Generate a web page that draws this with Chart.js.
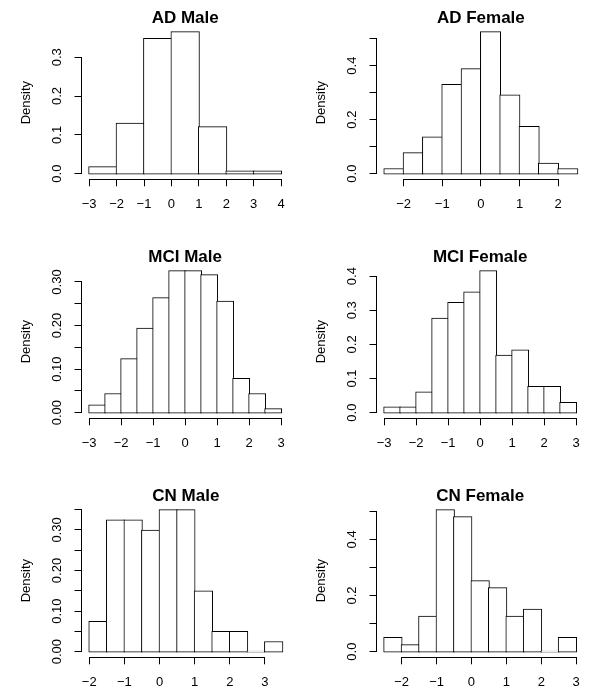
<!DOCTYPE html>
<html>
<head>
<meta charset="utf-8">
<script src="https://cdn.jsdelivr.net/npm/chart.js@4/dist/chart.umd.min.js"></script>
<style>
  html, body { margin: 0; padding: 0; background: #fff; }
  #fig { position: relative; width: 590px; height: 698px; overflow: hidden; background: #fff; }
  #fig canvas { position: absolute; }
</style>
</head>
<body>
<div id="fig"></div>
<script>
// Density histograms of standardised scores, by diagnosis group and sex.

// AD Male
const adMaleBreaks  = [-3, -2, -1, 0, 1, 2, 3, 4];
const adMaleDensity = [0.018, 0.130, 0.349, 0.366, 0.121, 0.007, 0.007];
const adMaleXTicks  = [-3, -2, -1, 0, 1, 2, 3, 4];
const adMaleYTicks  = [0, 0.1, 0.2, 0.3];
const adMaleYLabels = ['0.0', '0.1', '0.2', '0.3'];

// AD Female
const adFemaleBreaks  = [-2.5, -2, -1.5, -1, -0.5, 0, 0.5, 1, 1.5, 2, 2.5];
const adFemaleDensity = [0.019, 0.078, 0.136, 0.331, 0.389, 0.526, 0.292, 0.175, 0.039, 0.019];
const adFemaleXTicks  = [-2, -1, 0, 1, 2];
const adFemaleYTicks  = [0, 0.1, 0.2, 0.3, 0.4, 0.5];
const adFemaleYLabels = ['0.0', '', '0.2', '', '0.4', ''];

// MCI Male
const mciMaleBreaks  = [-3, -2.5, -2, -1.5, -1, -0.5, 0, 0.5, 1, 1.5, 2, 2.5, 3];
const mciMaleDensity = [0.018, 0.044, 0.124, 0.194, 0.264, 0.326, 0.326, 0.317, 0.256, 0.079, 0.044, 0.009];
const mciMaleXTicks  = [-3, -2, -1, 0, 1, 2, 3];
const mciMaleYTicks  = [0, 0.05, 0.10, 0.15, 0.20, 0.25, 0.30];
const mciMaleYLabels = ['0.00', '', '0.10', '', '0.20', '', '0.30'];

// MCI Female
const mciFemaleBreaks  = [-3, -2.5, -2, -1.5, -1, -0.5, 0, 0.5, 1, 1.5, 2, 2.5, 3];
const mciFemaleDensity = [0.017, 0.017, 0.061, 0.277, 0.323, 0.354, 0.416, 0.169, 0.184, 0.077, 0.077, 0.030];
const mciFemaleXTicks  = [-3, -2, -1, 0, 1, 2, 3];
const mciFemaleYTicks  = [0, 0.1, 0.2, 0.3, 0.4];
const mciFemaleYLabels = ['0.0', '0.1', '0.2', '0.3', '0.4'];

// CN Male
const cnMaleBreaks  = [-2, -1.5, -1, -0.5, 0, 0.5, 1, 1.5, 2, 2.5, 3, 3.5];
const cnMaleDensity = [0.075, 0.325, 0.325, 0.300, 0.350, 0.350, 0.150, 0.050, 0.050, 0, 0.025];
const cnMaleXTicks  = [-2, -1, 0, 1, 2, 3];
const cnMaleYTicks  = [0, 0.05, 0.10, 0.15, 0.20, 0.25, 0.30, 0.35];
const cnMaleYLabels = ['0.00', '', '0.10', '', '0.20', '', '0.30', ''];

// CN Female
const cnFemaleBreaks  = [-2.5, -2, -1.5, -1, -0.5, 0, 0.5, 1, 1.5, 2, 2.5, 3];
const cnFemaleDensity = [0.051, 0.025, 0.127, 0.506, 0.481, 0.253, 0.228, 0.127, 0.152, 0, 0.051];
const cnFemaleXTicks  = [-2, -1, 0, 1, 2, 3];
const cnFemaleYTicks  = [0, 0.1, 0.2, 0.3, 0.4, 0.5];
const cnFemaleYLabels = ['0.0', '', '0.2', '', '0.4', ''];

const panels = [
  { title: 'AD Male',    row: 0, col: 0, breaks: adMaleBreaks,    density: adMaleDensity,    xTicks: adMaleXTicks,    yTicks: adMaleYTicks,    yLabels: adMaleYLabels },
  { title: 'AD Female',  row: 0, col: 1, breaks: adFemaleBreaks,  density: adFemaleDensity,  xTicks: adFemaleXTicks,  yTicks: adFemaleYTicks,  yLabels: adFemaleYLabels },
  { title: 'MCI Male',   row: 1, col: 0, breaks: mciMaleBreaks,   density: mciMaleDensity,   xTicks: mciMaleXTicks,   yTicks: mciMaleYTicks,   yLabels: mciMaleYLabels },
  { title: 'MCI Female', row: 1, col: 1, breaks: mciFemaleBreaks, density: mciFemaleDensity, xTicks: mciFemaleXTicks, yTicks: mciFemaleYTicks, yLabels: mciFemaleYLabels },
  { title: 'CN Male',    row: 2, col: 0, breaks: cnMaleBreaks,    density: cnMaleDensity,    xTicks: cnMaleXTicks,    yTicks: cnMaleYTicks,    yLabels: cnMaleYLabels },
  { title: 'CN Female',  row: 2, col: 1, breaks: cnFemaleBreaks,  density: cnFemaleDensity,  xTicks: cnFemaleXTicks,  yTicks: cnFemaleYTicks,  yLabels: cnFemaleYLabels }
];

// Panel geometry (px)
const PANEL_W = 295, PANEL_H = 220;
const ROW_TOP = [0, 239, 478];
const PLOT_LEFT = 81.5, RIGHT_PAD = 4.8, TITLE_H = 26, PLOT_H = 153.3, XAXIS_H = 40;
const TICK_LEN = 7;
const FONT_FAMILY = '"Liberation Sans", Arial, Helvetica, sans-serif';
const AXIS_FONT = 13;

Chart.defaults.font.family = FONT_FAMILY;
Chart.defaults.font.size = AXIS_FONT;
Chart.defaults.color = '#000';

const fmt = v => String(v).replace('-', '\u2212');

// Axis lines that run from the first to the last tick only
const axisLines = {
  id: 'axisLines',
  afterDraw(chart) {
    const { ctx, chartArea, scales: { x, y } } = chart;
    const xt = x.ticks, yt = y.ticks;
    ctx.save();
    ctx.strokeStyle = '#000';
    ctx.lineWidth = 1;
    ctx.beginPath();
    const by = Math.round(chartArea.bottom) + 0.5;
    const x0 = Math.round(x.getPixelForValue(xt[0].value) - 0.5);
    const x1 = Math.round(x.getPixelForValue(xt[xt.length - 1].value) - 0.5) + 1;
    ctx.moveTo(x0, by);
    ctx.lineTo(x1, by);
    const lx = Math.round(chartArea.left) - 0.5;
    const y0 = Math.round(y.getPixelForValue(yt[0].value) - 0.5) + 1;
    const y1 = Math.round(y.getPixelForValue(yt[yt.length - 1].value) - 0.5);
    ctx.moveTo(lx, y0);
    ctx.lineTo(lx, y1);
    ctx.stroke();
    ctx.restore();
  }
};

const meas = document.createElement('canvas').getContext('2d');
meas.font = AXIS_FONT + 'px ' + FONT_FAMILY;

const fig = document.getElementById('fig');

panels.forEach(p => {
  const canvas = document.createElement('canvas');
  canvas.width = PANEL_W;
  canvas.height = PANEL_H;
  canvas.style.left = (p.col * PANEL_W) + 'px';
  canvas.style.top = ROW_TOP[p.row] + 'px';
  fig.appendChild(canvas);

  const lo = p.breaks[0], hi = p.breaks[p.breaks.length - 1];
  const xPad = 0.04 * (hi - lo);
  const ymax = Math.max(...p.density);
  const plotW = PANEL_W - PLOT_LEFT - RIGHT_PAD;
  const binPx = plotW * (p.breaks[1] - p.breaks[0]) / (hi - lo + 2 * xPad);
  // half a pixel below zero, so each bar outline straddles the zero line
  const halfPx = 0.5 * (1.08 * ymax) / PLOT_H;
  const points = p.density.map((d, i) => ({ x: (p.breaks[i] + p.breaks[i + 1]) / 2, y: d }));
  const widest = Math.max(...p.yLabels.map(l => meas.measureText(l).width));
  const yPad = 24 - TICK_LEN - widest / 2;

  new Chart(canvas, {
    type: 'bar',
    data: {
      datasets: [{
        data: points,
        base: -halfPx,
        backgroundColor: '#fff',
        borderColor: '#000',
        borderWidth: 1,
        borderSkipped: false,
        barThickness: binPx + 1,
        minBarLength: 1
      }]
    },
    options: {
      responsive: false,
      animation: false,
      events: [],
      layout: { padding: { left: 0, top: 0, right: RIGHT_PAD, bottom: PANEL_H - TITLE_H - PLOT_H - XAXIS_H } },
      plugins: {
        legend: { display: false },
        tooltip: { enabled: false },
        title: {
          display: true,
          text: p.title,
          fullSize: false,
          color: '#000',
          font: { size: 17, weight: 'bold', lineHeight: '16px' },
          padding: { top: 10, bottom: 0 }
        }
      },
      scales: {
        x: {
          type: 'linear',
          min: lo - xPad,
          max: hi + xPad,
          offset: false,
          afterBuildTicks: s => { s.ticks = p.xTicks.map(v => ({ value: v })); },
          afterFit: s => { s.height = XAXIS_H; },
          grid: { display: true, offset: false, drawOnChartArea: false, drawTicks: true, tickLength: TICK_LEN, color: '#000', lineWidth: 1 },
          border: { display: false },
          ticks: {
            autoSkip: false, minRotation: 0, maxRotation: 0, padding: 10, color: '#000',
            font: { size: AXIS_FONT },
            callback: (v, i) => fmt(p.xTicks[i])
          }
        },
        y: {
          type: 'linear',
          min: -0.04 * ymax,
          max: 1.04 * ymax,
          afterBuildTicks: s => { s.ticks = p.yTicks.map(v => ({ value: v })); },
          afterFit: s => { s.width = PLOT_LEFT; },
          grid: { display: true, drawOnChartArea: false, drawTicks: true, tickLength: TICK_LEN, color: '#000', lineWidth: 1 },
          border: { display: false },
          ticks: {
            autoSkip: false, minRotation: 90, maxRotation: 90, crossAlign: 'center', padding: yPad, color: '#000',
            font: { size: AXIS_FONT },
            callback: (v, i) => p.yLabels[i]
          },
          title: {
            display: true, text: 'Density', color: '#000',
            font: { size: AXIS_FONT },
            padding: { top: 18.5, bottom: 0 }
          }
        }
      }
    },
    plugins: [axisLines]
  });
});
</script>
</body>
</html>
